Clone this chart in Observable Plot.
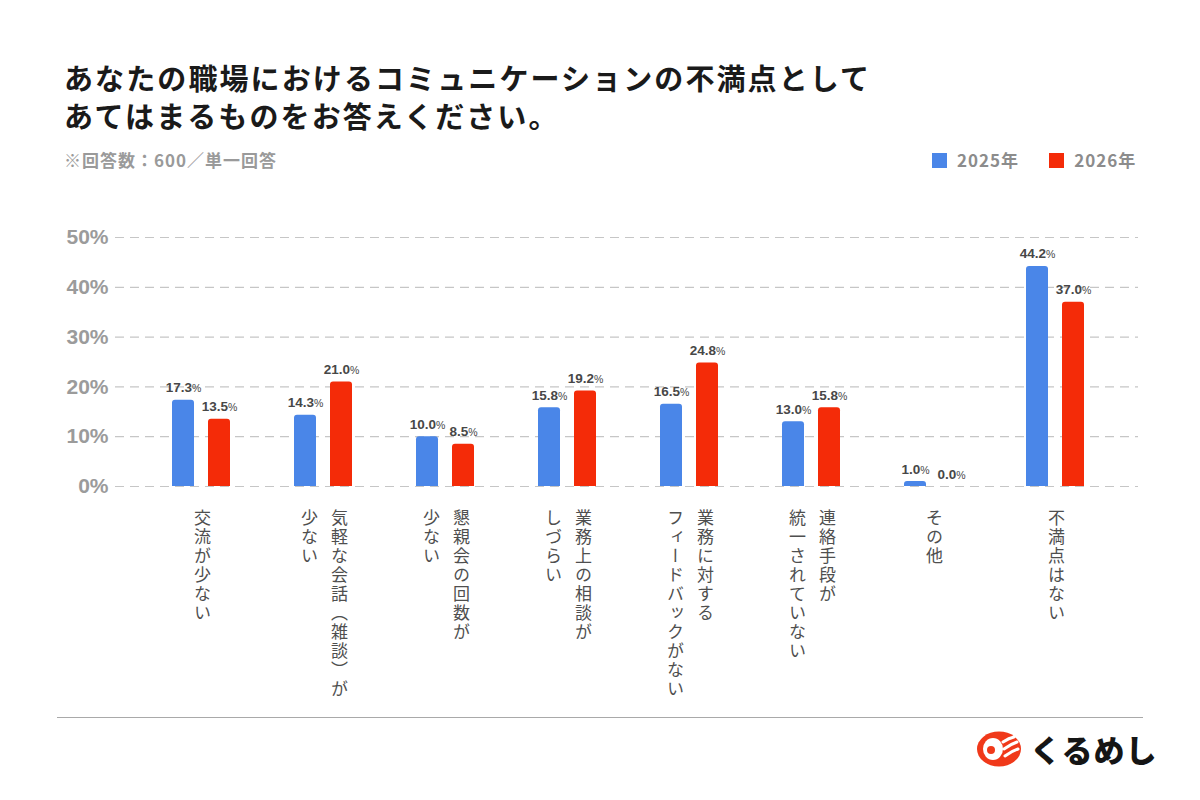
<!DOCTYPE html>
<html lang="ja">
<head>
<meta charset="utf-8">
<script src="https://cdn.jsdelivr.net/npm/d3@7"></script>
<script src="https://cdn.jsdelivr.net/npm/@observablehq/plot@0.6"></script>
<style>
  html, body { margin: 0; padding: 0; background: #fff; }
  body { width: 1200px; height: 800px; position: relative; overflow: hidden;
         font-family: "Noto Sans CJK JP", "Noto Sans", sans-serif; }
  #title { position: absolute; left: 64px; top: 58px; margin: 0;
           font-size: 29px; font-weight: 700; line-height: 38px; letter-spacing: 2.1px; color: #1a1a1a; }
  #note { position: absolute; left: 64px; top: 147px; font-size: 17px; font-weight: 700;
          line-height: 26px; color: #9a9a9a; letter-spacing: 1px; }
  #legend { position: absolute; left: 932px; top: 147px; display: flex; align-items: center;
            font-size: 17px; font-weight: 700; line-height: 26px; color: #8c8c8c; letter-spacing: 1px; }
  #legend .item { display: flex; align-items: center; margin-right: 30px; }
  #legend .item:last-child { margin-right: 0; }
  #legend .sw { width: 15px; height: 15px; margin-right: 10px; }
  #chart { position: absolute; left: 0; top: 200px; }
  #rule { position: absolute; left: 57px; top: 717px; width: 1086px; height: 0; border-top: 1.5px solid #a9a9a9; }
  #brand { position: absolute; left: 976px; top: 726px; display: flex; align-items: center; }
  #brand span { font-size: 31px; font-weight: 900; color: #151515; letter-spacing: 1px; margin-left: 8px; }
</style>
</head>
<body>
<h1 id="title">あなたの職場におけるコミュニケーションの不満点として<br>あてはまるものをお答えください。</h1>
<div id="note">※回答数：600／単一回答</div>
<div id="legend"></div>
<div id="chart"></div>
<div id="rule"></div>
<div id="brand">
  <svg width="46" height="42" viewBox="0 0 46 42">
    <ellipse cx="23" cy="21" rx="22" ry="17.5" fill="#f0391a"/>
    <ellipse cx="17" cy="21" rx="10" ry="11" fill="#fff"/>
    <circle cx="15" cy="22" r="4" fill="#f0391a"/>
    <path d="M27 14 Q33 10 38 9 M28 21 Q35 16 41 14 M29 28 Q36 23 42 21" stroke="#fff" stroke-width="3" fill="none" stroke-linecap="round"/>
  </svg>
  <span>くるめし</span>
</div>
<script>
// Survey answers (share of respondents, %), one bar pair per category
const categories = [
  "交流が少ない",
  "気軽な会話（雑談）が\n少ない",
  "懇親会の回数が\n少ない",
  "業務上の相談が\nしづらい",
  "業務に対する\nフィードバックがない",
  "連絡手段が\n統一されていない",
  "その他",
  "不満点はない"
];
const years = ["2025年", "2026年"];
const share2025 = [17.3, 14.3, 10.0, 15.8, 16.5, 13.0, 1.0, 44.2];
const share2026 = [13.5, 21.0, 8.5, 19.2, 24.8, 15.8, 0.0, 37.0];
const yTicks = [0, 10, 20, 30, 40, 50];
const yearColors = ["#4a86e8", "#f42b08"];

const rows2025 = categories.map((c, i) => ({category: c, year: years[0], value: share2025[i]}));
const rows2026 = categories.map((c, i) => ({category: c, year: years[1], value: share2026[i]}));

// Each category label is set vertically; its lines become columns read right to left
const labelLines = categories.flatMap(c => {
  const lines = c.split("\n");
  const n = lines.length;
  return lines.map((t, j) => ({category: c, text: t, offset: (n - 1) / 2 - j}));
});
const COLUMN_GAP = 30;
const labelGroups = Array.from(d3.group(labelLines, d => d.offset), ([offset, rows]) => ({offset, rows}));

const numFont = "'Liberation Sans', Arial, Helvetica, sans-serif";
const jpFont = "'Noto Sans CJK JP', sans-serif";

const valueText = (rows, dx) => Plot.text(rows, {
  x: "category", y: "value", text: d => d.value.toFixed(1),
  dx, dy: -8, lineAnchor: "bottom", textAnchor: "middle",
  fontFamily: numFont, fontSize: 13.5, fontWeight: "bold", fill: "#474747"
});

const chart = Plot.plot({
  width: 1200,
  height: 515,
  marginTop: 37,
  marginBottom: 229,
  marginLeft: 115,
  marginRight: 62,
  style: {background: "transparent", fontFamily: jpFont},
  x: {domain: categories, paddingInner: 0, paddingOuter: 0.1755, align: 0.552, axis: null},
  y: {domain: [0, 50], label: null},
  marks: [
    Plot.gridY(yTicks, {stroke: "#c6c6c6", strokeOpacity: 1, strokeWidth: 1.2, strokeDasharray: "9,6"}),
    Plot.axisY(yTicks, {
      tickSize: 0, tickPadding: 7, tickFormat: d => d + "%", label: null,
      fontFamily: numFont, fontSize: 21, fontWeight: "bold", fill: "#9b9b9b"
    }),
    Plot.barY(rows2025, {x: "category", y: "value", fill: yearColors[0], insetLeft: 31, insetRight: 69, ry1: 3}),
    Plot.barY(rows2026, {x: "category", y: "value", fill: yearColors[1], insetLeft: 67, insetRight: 33, ry1: 3}),
    valueText(rows2025, -19),
    valueText(rows2026, 17),
    ...labelGroups.map(g => Plot.text(g.rows, {
      x: "category", text: "text", frameAnchor: "bottom",
      dx: g.offset * COLUMN_GAP, dy: 23, lineAnchor: "bottom", textAnchor: "start",
      fontFamily: jpFont, fontSize: 17, fill: "#4f4f4f"
    }))
  ]
});

document.getElementById("chart").appendChild(chart);

// Text groups appear in mark order: two value-label groups, then the category columns
const textGroups = chart.querySelectorAll('g[aria-label="text"]');
textGroups.forEach((g, k) => {
  if (k < 2) {
    d3.select(g).selectAll("text").append("tspan")
      .attr("font-size", 10.5).attr("font-weight", "normal").text("%");
  } else {
    d3.select(g).selectAll("text")
      .style("writing-mode", "vertical-rl")
      .style("letter-spacing", "2px");
  }
});

// Legend
const legend = d3.select("#legend");
years.forEach((y, i) => {
  const item = legend.append("div").attr("class", "item");
  item.append("div").attr("class", "sw").style("background", yearColors[i]);
  item.append("span").text(y);
});
</script>
</body>
</html>
